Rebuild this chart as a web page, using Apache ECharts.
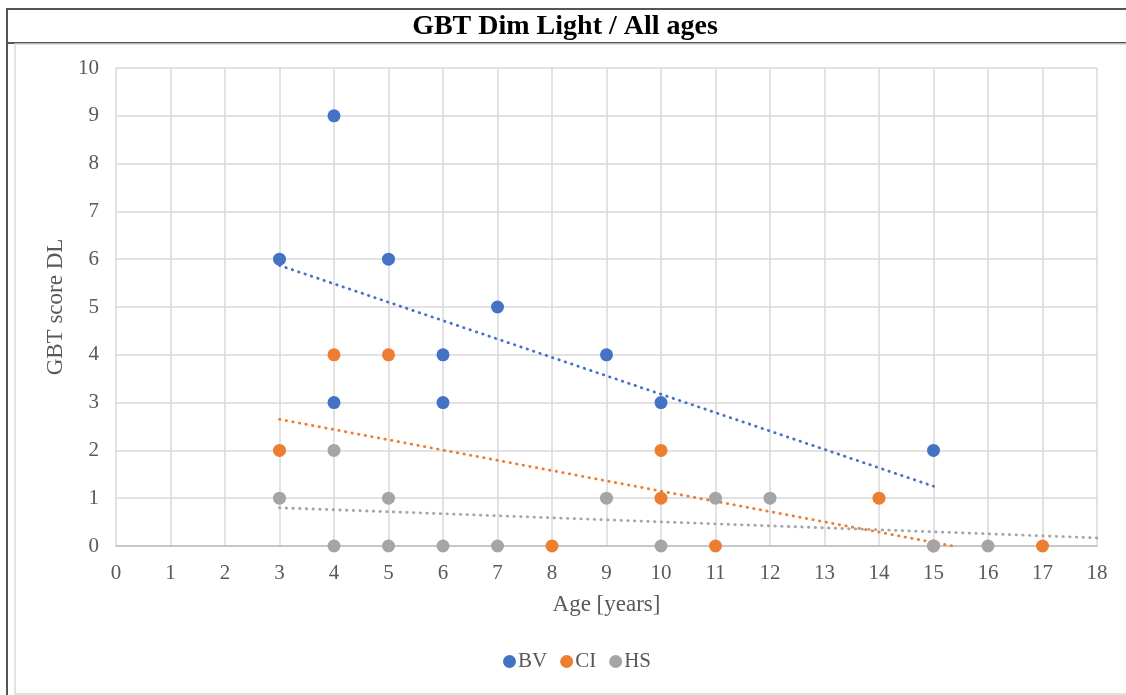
<!DOCTYPE HTML>
<html>
<head>
    <meta charset="utf-8">
    <title>GBT Dim Light / All ages</title>
    <style>
        html, body {
            margin: 0;
            padding: 0;
            background: #ffffff;
        }
        #chart {
            width: 1126px;
            height: 695px;
        }
    </style>
</head>
<body>
<div id="chart"></div>
<script type="text/javascript" src="https://cdn.jsdelivr.net/npm/echarts@6/dist/echarts.min.js"></script>
<script type="text/javascript">
    // 数据点 [age, score]
    var bvPoints = [[3, 6], [4, 9], [4, 3], [5, 6], [6, 4], [6, 3], [7, 5], [9, 4], [10, 3], [15, 2]];
    var ciPoints = [[3, 2], [4, 4], [5, 4], [8, 0], [10, 2], [10, 1], [11, 0], [14, 1], [15, 0], [17, 0]];
    var hsPoints = [[3, 1], [4, 2], [4, 0], [5, 1], [5, 0], [6, 0], [7, 0], [9, 1], [10, 0], [11, 1], [12, 1], [15, 0], [16, 0]];

    // 趋势线端点
    var bvTrend = [[3, 5.87], [15, 1.25]];
    var ciTrend = [[3, 2.65], [15.35, 0]];
    var hsTrend = [[3, 0.8], [18, 0.17]];

    var seriesNames = ['BV', 'CI', 'HS'];
    var seriesColors = ['#4472C4', '#ED7D31', '#A5A5A5'];

    var xMin = 0, xMax = 18, yMin = 0, yMax = 10;

    var serif = '"Liberation Serif", "DejaVu Serif", serif';

    function trendSeries(name, data, color) {
        return {
            name: name + ' trend',
            type: 'line',
            data: data,
            symbol: 'none',
            silent: true,
            z: 1,
            lineStyle: {
                color: color,
                width: 2.8,
                type: [0.5, 6.2],
                cap: 'round'
            }
        };
    }

    function pointSeries(name, data, color) {
        return {
            name: name,
            type: 'scatter',
            data: data,
            symbol: 'circle',
            symbolSize: 13,
            z: 3,
            itemStyle: {color: color, opacity: 1}
        };
    }

    var chart = echarts.init(document.getElementById('chart'));
    var option = {
        animation: false,
        backgroundColor: '#ffffff',
        graphic: [
            {//外框
                type: 'rect',
                shape: {x: 7, y: 9, width: 1140, height: 700},
                style: {fill: 'none', stroke: '#555555', lineWidth: 2}
            },
            {//标题下面的线
                type: 'line',
                shape: {x1: 7, y1: 43, x2: 1126, y2: 43},
                style: {stroke: '#555555', lineWidth: 2}
            },
            {//图表区边框
                type: 'rect',
                shape: {x: 15, y: 44, width: 1130, height: 650},
                style: {fill: 'none', stroke: '#D9D9D9', lineWidth: 1.5}
            },
            {
                type: 'text',
                x: 565,
                y: 13,
                style: {
                    text: 'GBT Dim Light / All ages',
                    font: 'bold 28px ' + serif,
                    fill: '#000000',
                    align: 'center',
                    verticalAlign: 'top'
                }
            }
        ],
        grid: {
            left: 116,
            right: 29,
            top: 68,
            bottom: 149,
            containLabel: false
        },
        legend: {
            data: seriesNames,
            bottom: 18,
            left: 498,
            icon: 'circle',
            itemWidth: 13,
            itemHeight: 13,
            itemGap: 13,
            textStyle: {
                fontFamily: serif,
                fontSize: 21,
                color: '#595959',
                padding: [0, 0, 0, -3]
            }
        },
        xAxis: {
            type: 'value',
            min: xMin,
            max: xMax,
            interval: 1,
            name: 'Age [years]',
            nameLocation: 'middle',
            nameGap: 47,
            nameTextStyle: {fontFamily: serif, fontSize: 23, color: '#595959'},
            axisLine: {show: true, lineStyle: {color: '#BFBFBF', width: 1.5}},
            axisTick: {show: false},
            axisLabel: {fontFamily: serif, fontSize: 21, color: '#595959', margin: 17},
            splitLine: {show: true, lineStyle: {color: '#D9D9D9', width: 1.5}}
        },
        yAxis: {
            type: 'value',
            min: yMin,
            max: yMax,
            interval: 1,
            name: 'GBT score DL',
            nameLocation: 'middle',
            nameGap: 46,
            nameTextStyle: {fontFamily: serif, fontSize: 23, color: '#595959'},
            axisLine: {show: false},
            axisTick: {show: false},
            axisLabel: {fontFamily: serif, fontSize: 21, color: '#595959', margin: 17},
            splitLine: {show: true, lineStyle: {color: '#D9D9D9', width: 1.5}}
        },
        series: [
            trendSeries(seriesNames[0], bvTrend, seriesColors[0]),
            trendSeries(seriesNames[1], ciTrend, seriesColors[1]),
            trendSeries(seriesNames[2], hsTrend, seriesColors[2]),
            pointSeries(seriesNames[0], bvPoints, seriesColors[0]),
            pointSeries(seriesNames[1], ciPoints, seriesColors[1]),
            pointSeries(seriesNames[2], hsPoints, seriesColors[2])
        ]
    };
    chart.setOption(option);
</script>
</body>
</html>
